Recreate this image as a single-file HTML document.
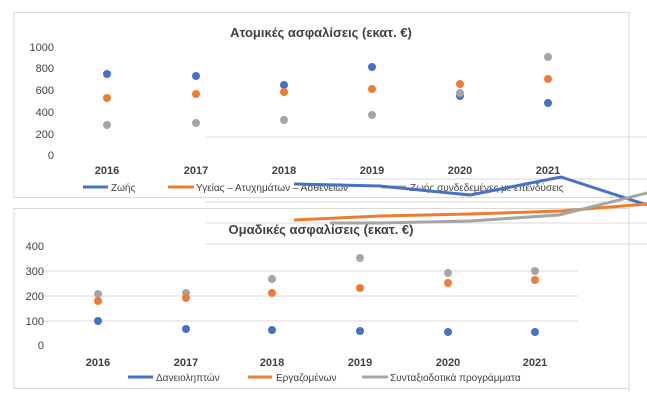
<!DOCTYPE html>
<html><head><meta charset="utf-8"><style>
html,body{margin:0;padding:0;background:#fff}
svg{display:block}
text{font-family:"Liberation Sans","DejaVu Sans",sans-serif;}
</style></head><body>
<svg width="647" height="405" viewBox="0 0 647 405" xmlns="http://www.w3.org/2000/svg">
<rect x="0" y="0" width="647" height="405" fill="#fff"/>
<rect x="14" y="12.5" width="615" height="185" fill="none" stroke="#d9d9d9" stroke-width="1"/>
<g stroke="#d9d9d9" stroke-width="1">
<line x1="205" y1="137" x2="647" y2="137"/>
<line x1="330" y1="179" x2="647" y2="179"/>
<line x1="205" y1="202" x2="647" y2="202"/>
<line x1="205" y1="223" x2="647" y2="223"/>
<line x1="205" y1="244" x2="647" y2="244"/>
<line x1="629" y1="12.5" x2="629" y2="392"/>
</g>
<text x="321" y="37" font-size="13" font-weight="bold" fill="#404040" text-anchor="middle">Ατομικές ασφαλίσεις  (εκατ. €)</text>
<g font-size="11" fill="#404040" text-anchor="end">
<text x="54" y="51">1000</text><text x="54" y="72">800</text><text x="54" y="94">600</text>
<text x="54" y="116">400</text><text x="54" y="138">200</text><text x="54" y="159">0</text>
</g>
<g font-size="11" font-weight="bold" fill="#404040" text-anchor="middle">
<text x="107" y="174">2016</text><text x="196" y="174">2017</text><text x="284" y="174">2018</text>
<text x="372" y="174">2019</text><text x="460" y="174">2020</text><text x="548" y="174">2021</text>
</g>
<g>
<circle cx="107" cy="125" r="4" fill="#a5a5a5"/><circle cx="107" cy="98" r="4" fill="#ed7d31"/><circle cx="107" cy="74" r="4" fill="#4472c4"/>
<circle cx="196" cy="123" r="4" fill="#a5a5a5"/><circle cx="196" cy="94" r="4" fill="#ed7d31"/><circle cx="196" cy="76" r="4" fill="#4472c4"/>
<circle cx="284" cy="120" r="4" fill="#a5a5a5"/><circle cx="284" cy="85" r="4" fill="#4472c4"/><circle cx="284" cy="92" r="4" fill="#ed7d31"/>
<circle cx="372" cy="115" r="4" fill="#a5a5a5"/><circle cx="372" cy="89" r="4" fill="#ed7d31"/><circle cx="372" cy="67" r="4" fill="#4472c4"/>
<circle cx="460" cy="96" r="4" fill="#4472c4"/><circle cx="460" cy="93" r="4" fill="#a5a5a5"/><circle cx="460" cy="84" r="4" fill="#ed7d31"/>
<circle cx="548" cy="57" r="4" fill="#a5a5a5"/><circle cx="548" cy="79" r="4" fill="#ed7d31"/><circle cx="548" cy="103" r="4" fill="#4472c4"/>
</g>
<g font-size="10" fill="#404040">
<line x1="83" y1="187" x2="108" y2="187" stroke="#4472c4" stroke-width="3"/><text x="111" y="191">Ζωής</text>
<line x1="168" y1="187" x2="194" y2="187" stroke="#ed7d31" stroke-width="3"/><text x="196" y="191">Υγείας – Ατυχημάτων – Ασθενειών</text>
<line x1="382" y1="187" x2="406" y2="187" stroke="#a5a5a5" stroke-width="3"/><text x="410" y="191">Ζωής συνδεδεμένες με επενδύσεις</text>
</g>
<rect x="14" y="208.5" width="615" height="180" fill="#fff" stroke="#d9d9d9" stroke-width="1"/>
<g stroke="#d9d9d9" stroke-width="1">
<line x1="205" y1="223" x2="629" y2="223"/>
<line x1="205" y1="244" x2="647" y2="244"/>
<line x1="41" y1="271" x2="578" y2="271"/>
<line x1="41" y1="296" x2="578" y2="296"/>
<line x1="41" y1="321" x2="578" y2="321"/>
<line x1="629" y1="208" x2="629" y2="392"/>
</g>
<g fill="none" stroke-width="3" stroke-linejoin="round">
<polyline points="294,184 380,186 470,195 561,177 647,205" stroke="#4472c4"/>
<polyline points="294,220 380,216 470,214 561,211 647,204" stroke="#ed7d31"/>
<polyline points="330,223 380,223 470,221 559,215 647,193" stroke="#a5a5a5"/>
</g>
<text x="321" y="234" font-size="13" font-weight="bold" fill="#404040" text-anchor="middle">Ομαδικές ασφαλίσεις  (εκατ. €)</text>
<g font-size="11" fill="#404040" text-anchor="end">
<text x="44" y="250">400</text><text x="44" y="275">300</text><text x="44" y="300">200</text>
<text x="44" y="325">100</text><text x="44" y="349">0</text>
</g>
<g font-size="11" font-weight="bold" fill="#404040" text-anchor="middle">
<text x="98" y="366">2016</text><text x="186" y="366">2017</text><text x="272" y="366">2018</text>
<text x="360" y="366">2019</text><text x="448" y="366">2020</text><text x="535" y="366">2021</text>
</g>
<g>
<circle cx="98" cy="294" r="4" fill="#a5a5a5"/><circle cx="98" cy="301" r="4" fill="#ed7d31"/><circle cx="98" cy="321" r="4" fill="#4472c4"/>
<circle cx="186" cy="293" r="4" fill="#a5a5a5"/><circle cx="186" cy="298" r="4" fill="#ed7d31"/><circle cx="186" cy="329" r="4" fill="#4472c4"/>
<circle cx="272" cy="279" r="4" fill="#a5a5a5"/><circle cx="272" cy="293" r="4" fill="#ed7d31"/><circle cx="272" cy="330" r="4" fill="#4472c4"/>
<circle cx="360" cy="258" r="4" fill="#a5a5a5"/><circle cx="360" cy="288" r="4" fill="#ed7d31"/><circle cx="360" cy="331" r="4" fill="#4472c4"/>
<circle cx="448" cy="273" r="4" fill="#a5a5a5"/><circle cx="448" cy="283" r="4" fill="#ed7d31"/><circle cx="448" cy="332" r="4" fill="#4472c4"/>
<circle cx="535" cy="271" r="4" fill="#a5a5a5"/><circle cx="535" cy="280" r="4" fill="#ed7d31"/><circle cx="535" cy="332" r="4" fill="#4472c4"/>
</g>
<g font-size="10" fill="#404040">
<line x1="128" y1="377" x2="153" y2="377" stroke="#4472c4" stroke-width="3"/><text x="156" y="381">Δανειοληπτών</text>
<line x1="248" y1="377" x2="272" y2="377" stroke="#ed7d31" stroke-width="3"/><text x="276" y="381">Εργαζομένων</text>
<line x1="362" y1="377" x2="388" y2="377" stroke="#a5a5a5" stroke-width="3"/><text x="390" y="381">Συνταξιοδοτικά προγράμματα</text>
</g>
</svg>
</body></html>
